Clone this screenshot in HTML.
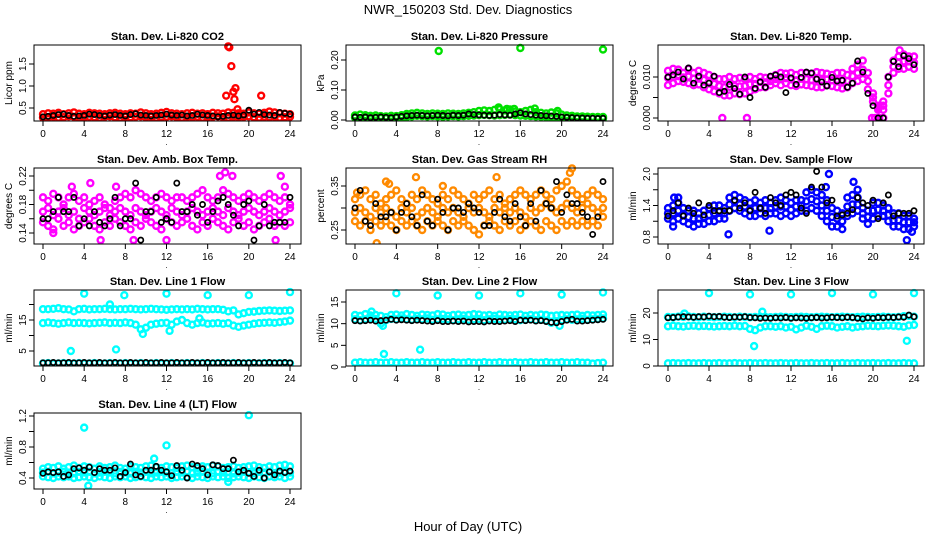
<!DOCTYPE html>
<html><head><meta charset="utf-8"><title>NWR_150203 Std. Dev. Diagnostics</title>
<style>
html,body{margin:0;padding:0;background:#fff;}
svg{display:block;font-family:"Liberation Sans",Arial,sans-serif;}
</style></head>
<body>
<svg id="chart" width="936" height="540" viewBox="0 0 936 540" xmlns="http://www.w3.org/2000/svg">
<text x="468" y="14" text-anchor="middle" font-size="13">NWR_150203  Std. Dev. Diagnostics</text>
<text x="468" y="531" text-anchor="middle" font-size="13">Hour of Day (UTC)</text>
</svg>
<script>
const hours=[0,0.5,1,1.5,2,2.5,3,3.5,4,4.5,5,5.5,6,6.5,7,7.5,8,8.5,9,9.5,10,10.5,11,11.5,12,12.5,13,13.5,14,14.5,15,15.5,16,16.5,17,17.5,18,18.5,19,19.5,20,20.5,21,21.5,22,22.5,23,23.5,24];
const xTicks=[0,4,8,12,16,20,24];

// P1 CO2
const co2Lo=[0.28,0.29,0.30,0.28,0.29,0.31,0.30,0.28,0.29,0.30,0.29,0.28,0.30,0.31,0.29,0.28,0.30,0.29,0.30,0.31,0.29,0.30,0.28,0.29,0.30,0.31,0.29,0.28,0.30,0.29,0.30,0.28,0.29,0.30,0.31,0.29,0.28,0.30,0.29,0.30,0.31,0.29,0.28,0.30,0.29,0.30,0.28,0.29,0.30];
const co2Hi=[0.36,0.38,0.37,0.39,0.36,0.38,0.40,0.37,0.36,0.39,0.38,0.37,0.36,0.38,0.39,0.37,0.36,0.38,0.37,0.40,0.38,0.36,0.37,0.39,0.41,0.38,0.37,0.36,0.38,0.39,0.37,0.38,0.36,0.39,0.38,0.37,0.40,0.39,0.38,0.37,0.40,0.38,0.37,0.39,0.42,0.40,0.38,0.37,0.36];
const co2Black=[0.30,0.31,0.33,0.35,0.36,0.33,0.31,0.32,0.33,0.36,0.35,0.33,0.32,0.34,0.35,0.33,0.32,0.35,0.37,0.34,0.33,0.32,0.33,0.34,0.36,0.34,0.33,0.34,0.32,0.33,0.36,0.34,0.33,0.32,0.30,0.31,0.33,0.34,0.32,0.34,0.45,0.36,0.40,0.35,0.34,0.33,0.40,0.38,0.36];
const co2OutX=[17.8,18.0,18.1,18.3,18.5,18.6,18.7,18.9,21.2];
const co2OutY=[0.78,1.90,1.88,1.45,0.87,0.70,0.95,0.47,0.78];

// P2 Pressure
const prLo=[0.008,0.006,0.007,0.005,0.006,0.007,0.006,0.005,0.007,0.008,0.010,0.012,0.014,0.013,0.012,0.013,0.012,0.011,0.012,0.013,0.012,0.013,0.014,0.015,0.016,0.017,0.016,0.015,0.016,0.017,0.018,0.016,0.015,0.014,0.013,0.012,0.011,0.010,0.010,0.009,0.008,0.007,0.006,0.006,0.005,0.005,0.006,0.005,0.005];
const prHi=[0.015,0.018,0.016,0.014,0.015,0.013,0.012,0.014,0.013,0.016,0.020,0.022,0.024,0.022,0.020,0.022,0.021,0.020,0.022,0.021,0.020,0.022,0.024,0.026,0.030,0.032,0.030,0.034,0.036,0.032,0.035,0.028,0.026,0.030,0.034,0.026,0.024,0.022,0.025,0.022,0.018,0.015,0.014,0.012,0.012,0.011,0.010,0.010,0.010];
const prBlack=[0.010,0.009,0.010,0.008,0.009,0.010,0.009,0.008,0.010,0.012,0.014,0.015,0.016,0.015,0.014,0.015,0.016,0.015,0.014,0.016,0.015,0.016,0.020,0.018,0.017,0.016,0.015,0.016,0.018,0.017,0.016,0.020,0.024,0.020,0.018,0.016,0.015,0.014,0.013,0.012,0.010,0.009,0.008,0.007,0.007,0.006,0.006,0.005,0.006];
const prOutX=[8.1,16.0,24.0,13.9,17.4,14.7,15.4,19.6];
const prOutY=[0.230,0.240,0.235,0.042,0.038,0.037,0.037,0.030];

// P3 Li-820 Temp
const tmHi=[0.0115,0.012,0.0118,0.011,0.012,0.011,0.0115,0.011,0.0105,0.010,0.0095,0.0095,0.010,0.0095,0.0098,0.0095,0.010,0.0095,0.010,0.0098,0.010,0.0105,0.011,0.0108,0.011,0.0105,0.011,0.011,0.0108,0.0112,0.011,0.0108,0.0105,0.011,0.011,0.0105,0.012,0.013,0.014,0.011,0.006,0.003,0.004,0.010,0.014,0.015,0.0155,0.015,0.015];
const tmMid=[0.0098,0.010,0.0102,0.0099,0.0101,0.0096,0.0098,0.0093,0.0088,0.0083,0.0078,0.0075,0.0076,0.0078,0.0077,0.0078,0.0082,0.0083,0.0088,0.0087,0.0090,0.0095,0.0095,0.0097,0.0095,0.0092,0.0096,0.0095,0.0093,0.0094,0.0093,0.0094,0.0092,0.0093,0.0091,0.0090,0.0102,0.0110,0.0118,0.0090,0.0050,0.0025,0.0030,0.0080,0.0125,0.0135,0.0138,0.0138,0.0135];
const tmLo=[0.008,0.0085,0.009,0.0088,0.0085,0.008,0.0082,0.0075,0.007,0.0065,0.006,0.0055,0.0055,0.006,0.0058,0.006,0.0065,0.007,0.0075,0.0075,0.008,0.0085,0.008,0.0085,0.008,0.0078,0.0082,0.008,0.0078,0.0075,0.0075,0.008,0.0078,0.0075,0.0072,0.0075,0.0085,0.009,0.0095,0.007,0.004,0.002,0.002,0.006,0.011,0.012,0.012,0.0125,0.012];
const tmBlack=[0.010,0.0105,0.0112,0.0095,0.0122,0.0085,0.0102,0.0080,0.0085,0.0102,0.0062,0.0065,0.0082,0.0072,0.0058,0.0100,0.0050,0.0072,0.0088,0.0075,0.0102,0.0105,0.0100,0.0062,0.0098,0.0082,0.0099,0.0112,0.0110,0.0095,0.0088,0.0078,0.0099,0.0090,0.0092,0.0075,0.0085,0.0139,0.0112,0.0060,0.0030,0.0000,0.0000,0.0100,0.0138,0.0125,0.0152,0.0145,0.0130];
const tmOutX=[5.3,7.7,19.9,20.2,20.6,21.0,22.6];
const tmOutY=[0.0,0.0,0.0,0.0,0.0,0.0,0.0165];

// P4 Amb Box Temp
const abHi=[0.19,0.185,0.195,0.19,0.18,0.19,0.195,0.185,0.19,0.18,0.185,0.19,0.18,0.175,0.185,0.19,0.195,0.19,0.2,0.195,0.19,0.185,0.19,0.195,0.19,0.185,0.19,0.19,0.185,0.19,0.195,0.2,0.19,0.185,0.19,0.2,0.195,0.19,0.185,0.19,0.195,0.19,0.185,0.19,0.195,0.19,0.185,0.19,0.18];
const abMid=[0.17,0.175,0.165,0.17,0.175,0.165,0.17,0.16,0.175,0.17,0.165,0.17,0.175,0.165,0.17,0.175,0.17,0.165,0.175,0.17,0.165,0.17,0.175,0.17,0.165,0.175,0.17,0.165,0.17,0.175,0.17,0.165,0.17,0.175,0.17,0.165,0.175,0.17,0.165,0.17,0.175,0.17,0.165,0.17,0.175,0.17,0.165,0.17,0.175];
const abLo=[0.155,0.15,0.145,0.16,0.15,0.155,0.145,0.15,0.155,0.16,0.15,0.145,0.155,0.15,0.16,0.155,0.15,0.145,0.155,0.15,0.16,0.155,0.15,0.145,0.16,0.155,0.15,0.155,0.16,0.15,0.145,0.155,0.15,0.16,0.155,0.15,0.145,0.155,0.16,0.15,0.155,0.145,0.15,0.155,0.16,0.15,0.155,0.15,0.155];
const abBlack=[0.16,0.16,0.17,0.19,0.17,0.17,0.19,0.15,0.16,0.15,0.17,0.155,0.15,0.16,0.19,0.15,0.16,0.16,0.21,0.13,0.17,0.17,0.19,0.155,0.16,0.155,0.21,0.17,0.17,0.18,0.165,0.18,0.155,0.17,0.185,0.19,0.18,0.165,0.15,0.18,0.185,0.13,0.15,0.18,0.15,0.155,0.155,0.155,0.19];
const abOutX=[1.0,4.6,5.6,8.8,12.0,17.2,17.7,18.4,22.6,23.1,23.5,2.8,7.1];
const abOutY=[0.14,0.21,0.13,0.13,0.13,0.22,0.225,0.22,0.13,0.22,0.205,0.205,0.205];

// P5 Gas Stream RH
const rhHi=[0.32,0.33,0.34,0.32,0.33,0.31,0.32,0.33,0.34,0.32,0.31,0.33,0.32,0.34,0.33,0.32,0.31,0.33,0.32,0.34,0.33,0.32,0.31,0.33,0.32,0.33,0.34,0.32,0.33,0.31,0.32,0.33,0.34,0.33,0.32,0.33,0.34,0.33,0.32,0.34,0.35,0.36,0.34,0.33,0.32,0.33,0.34,0.33,0.32];
const rhMid=[0.29,0.30,0.29,0.28,0.30,0.29,0.30,0.29,0.28,0.30,0.29,0.30,0.28,0.29,0.30,0.29,0.28,0.30,0.29,0.30,0.29,0.28,0.30,0.29,0.30,0.29,0.28,0.30,0.29,0.30,0.29,0.30,0.29,0.28,0.30,0.29,0.30,0.31,0.30,0.29,0.30,0.31,0.30,0.29,0.30,0.31,0.30,0.29,0.30];
const rhLo=[0.27,0.26,0.27,0.25,0.27,0.26,0.27,0.26,0.25,0.27,0.26,0.27,0.26,0.25,0.27,0.26,0.27,0.26,0.25,0.27,0.26,0.27,0.26,0.25,0.24,0.26,0.27,0.26,0.25,0.27,0.26,0.27,0.25,0.26,0.27,0.26,0.25,0.27,0.26,0.25,0.27,0.26,0.27,0.26,0.27,0.26,0.27,0.26,0.28];
const rhBlack=[0.30,0.34,0.27,0.26,0.31,0.28,0.28,0.29,0.25,0.29,0.31,0.28,0.26,0.33,0.27,0.26,0.32,0.29,0.25,0.30,0.30,0.29,0.31,0.30,0.29,0.26,0.26,0.29,0.32,0.28,0.27,0.31,0.28,0.26,0.31,0.27,0.34,0.31,0.30,0.36,0.29,0.33,0.31,0.31,0.29,0.28,0.24,0.28,0.36];
const rhOutX=[2.1,3.0,3.3,5.9,13.7,20.8,21.0,0.2,8.5];
const rhOutY=[0.22,0.36,0.355,0.37,0.37,0.38,0.39,0.335,0.35];

// P6 Sample Flow
const sfHi=[1.35,1.4,1.45,1.35,1.3,1.3,1.25,1.3,1.35,1.4,1.4,1.35,1.55,1.6,1.55,1.5,1.45,1.5,1.45,1.5,1.45,1.5,1.55,1.5,1.45,1.5,1.5,1.65,1.7,1.65,1.6,1.5,1.35,1.3,1.25,1.55,1.6,1.55,1.35,1.3,1.45,1.45,1.4,1.35,1.25,1.25,1.2,1.2,1.15];
const sfMid=[1.25,1.25,1.3,1.22,1.18,1.15,1.15,1.18,1.22,1.25,1.28,1.25,1.42,1.48,1.42,1.38,1.32,1.35,1.35,1.35,1.35,1.38,1.38,1.38,1.32,1.38,1.4,1.48,1.52,1.48,1.4,1.3,1.18,1.15,1.1,1.38,1.42,1.42,1.25,1.18,1.3,1.32,1.3,1.22,1.12,1.12,1.08,1.08,1.08];
const sfLo=[1.15,1.1,1.15,1.1,1.05,1.0,1.05,1.05,1.1,1.1,1.15,1.15,1.3,1.35,1.3,1.25,1.2,1.2,1.25,1.2,1.25,1.25,1.2,1.25,1.2,1.25,1.3,1.3,1.35,1.3,1.2,1.1,1.0,1.0,0.95,1.2,1.25,1.3,1.15,1.05,1.15,1.2,1.2,1.1,1.0,1.0,0.95,0.95,1.0];
const sfBlack=[1.2,1.3,1.45,1.2,1.35,1.25,1.45,1.22,1.4,1.3,1.3,1.3,1.3,1.5,1.35,1.45,1.3,1.65,1.35,1.25,1.55,1.45,1.4,1.6,1.65,1.6,1.35,1.25,1.75,2.05,1.75,1.45,1.5,1.2,1.22,1.25,1.32,1.55,1.45,1.4,1.5,1.15,1.45,1.6,1.2,1.25,1.25,1.25,1.3];
const sfOutX=[0.5,5.9,9.9,15.7,18.1,23.3,23.8,0.6,1.0,18.5,15.4];
const sfOutY=[1.0,0.85,0.92,2.0,1.85,0.74,0.9,1.55,1.55,1.7,1.75];

// P7 Line 1 Flow
const l1Hi=[18.5,18.5,18.6,18.8,18.5,18.4,17.8,18.5,18.6,18.4,18.5,18.5,18.6,18.5,18.4,18.5,18.5,18.6,18.5,18.4,18.5,18.6,18.5,18.4,18.3,18.4,18.5,18.4,18.5,18.4,18.6,18.5,18.4,18.5,18.5,18.3,17.8,18.1,16.8,17.2,17.6,17.7,17.9,18.0,18.1,18.0,17.9,18.0,18.1];
const l1Mid=[14.0,14.2,14.0,13.8,14.0,14.2,14.0,14.1,14.0,13.9,14.0,14.1,14.2,14.0,14.1,14.0,14.2,14.0,13.5,12.0,12.5,13.5,13.8,14.0,14.1,13.5,14.5,15.0,14.0,13.5,14.0,14.2,13.8,13.9,14.0,13.8,14.0,13.2,12.8,13.2,13.5,13.8,14.0,14.1,14.2,14.1,14.3,14.5,14.8];
const l1Lo=[1.0,1.1,1.0,1.0,1.1,1.0,1.0,1.1,1.0,1.0,1.1,1.0,1.0,1.1,1.0,1.0,1.1,1.0,1.0,1.1,1.0,1.0,1.1,1.0,1.0,1.1,1.0,1.0,1.1,1.0,1.0,1.1,1.0,1.0,1.1,1.0,1.0,1.1,1.0,1.0,1.1,1.0,1.0,1.1,1.0,1.0,1.1,1.0,1.0];
const l1Black=[1.2,1.2,1.3,1.2,1.2,1.3,1.2,1.2,1.3,1.2,1.2,1.3,1.2,1.2,1.3,1.2,1.2,1.3,1.2,1.2,1.3,1.2,1.2,1.3,1.2,1.2,1.3,1.2,1.2,1.3,1.2,1.2,1.3,1.2,1.2,1.3,1.2,1.2,1.3,1.2,1.2,1.3,1.2,1.2,1.3,1.2,1.2,1.3,1.2];
const l1OutX=[4.0,7.9,12.0,16.0,20.0,24.0,2.7,7.1,9.7,6.5,12.3,15.2];
const l1OutY=[23.5,23.0,23.5,23.0,23.0,24.0,5.0,5.5,10.5,20.0,11.5,15.5];

// P8 Line 2 Flow
const l2Hi=[12,11.8,12.2,11.9,12,11.8,11.5,12,12.1,11.9,12.2,12,11.8,12.1,12,11.9,12.2,12.1,11.8,12,12.1,11.9,12,12.2,12.1,11.9,12,11.8,12.1,12,11.9,12,12.1,11.8,12,11.9,12.1,12,11.8,11.9,12,11.9,12,12.1,11.8,12,11.9,12,12.1];
const l2Mid=[11,10.8,11,11.2,11.1,10,10.8,11.1,11,11.2,11,10.9,11.1,11,11.2,10.9,11,11.1,11,10.8,11,11.1,10.9,11,11.1,10.8,11,11.1,11,10.9,11.1,11,10.8,10.9,11,10.8,10.9,10.7,10.2,10.5,10.8,11,10.9,11,11.1,10.9,11,11.1,11.2];
const l2Lo=[1.0,1.1,1.0,1.0,1.1,1.0,1.0,1.1,1.0,1.0,1.1,1.0,1.0,1.1,1.0,1.0,1.1,1.0,1.0,1.1,1.0,1.0,1.1,1.0,1.0,1.1,1.0,1.0,1.1,1.0,1.0,1.1,1.0,1.0,1.1,1.0,1.0,1.1,1.0,1.0,1.1,1.0,1.0,1.1,1.0,1.0,0.8,0.9,1.0];
const l2Black=[10.7,10.6,10.7,10.8,10.6,10.7,10.8,11,10.8,10.9,10.8,10.7,10.8,10.7,10.6,10.5,10.7,10.5,10.5,10.6,10.5,10.6,10.4,10.5,10.5,10.4,10.6,10.5,10.5,10.6,10.7,10.5,10.8,10.7,10.8,10.6,10.7,10.5,10.3,10.2,10.5,10.8,11,10.6,10.6,10.7,10.8,10.9,11];
const l2OutX=[4.0,8.0,12.0,16.0,20.0,24.0,2.8,6.3,2.7,19.8,1.6];
const l2OutY=[17.0,16.5,16.5,17.0,16.7,17.2,3.0,4.0,9.5,9.5,12.8];

// P9 Line 3 Flow
const l3Hi=[18.5,18.4,18.6,18.5,18.7,18.5,18.4,18.6,18.5,18.4,18.5,18.6,18.5,18.4,18.6,18.5,18.4,18.5,18.6,18.5,18.4,18.5,18.6,18.5,18.4,18.5,18.6,18.5,18.4,18.5,18.6,18.5,18.4,18.5,18.6,18.5,18.4,18.5,18.6,18.5,18.4,18.5,18.6,18.5,18.4,18.5,18.8,18.9,18.6];
const l3Mid=[15.0,15.2,15.0,14.9,15.1,15.2,15.0,15.1,15.0,14.9,15.0,15.1,15.0,15.2,15.0,15.1,14.0,13.5,14.5,15.0,15.0,14.8,15.0,14.5,14.8,13.8,14.5,15.2,14.8,14.0,15.0,15.2,15.0,14.5,14.8,15.0,14.5,14.8,15.0,15.2,15.1,15.0,15.2,15.3,15.2,15.0,14.8,15.3,15.5];
const l3Lo=[1.0,1.1,1.0,1.0,1.1,1.0,1.0,1.1,1.0,1.0,1.1,1.0,1.0,1.1,1.0,1.0,1.1,1.0,1.0,1.1,1.0,1.0,1.1,1.0,1.0,1.1,1.0,1.0,1.1,1.0,1.0,1.1,1.0,1.0,1.1,1.0,1.0,1.1,1.0,1.0,1.1,1.0,1.0,1.1,1.0,1.0,1.1,1.0,1.0];
const l3Black=[18.2,18.3,18.5,18.6,18.5,18.4,18.6,18.5,18.8,18.6,18.7,18.4,18.3,18.5,18.4,18.6,18.3,18.2,18.0,18.1,18.0,18.2,18.1,18.3,18.0,18.2,18.1,18.0,18.2,18.3,18.1,18.2,18.4,18.3,18.2,18.4,18.3,18.0,17.8,18.2,18.0,18.3,18.2,18.4,18.3,18.5,18.4,19.2,18.6];
const l3OutX=[4.0,8.0,12.0,16.0,20.0,24.0,8.4,23.3,9.2,1.6];
const l3OutY=[27.5,27.0,27.0,27.5,27.0,27.5,7.5,9.5,20.5,19.8];

// P10 Line 4 (LT) Flow
const l4Hi=[0.52,0.54,0.53,0.55,0.52,0.54,0.56,0.53,0.55,0.54,0.52,0.55,0.53,0.54,0.56,0.53,0.52,0.55,0.54,0.53,0.55,0.56,0.54,0.53,0.55,0.54,0.53,0.55,0.56,0.54,0.53,0.55,0.54,0.56,0.55,0.53,0.54,0.55,0.53,0.54,0.55,0.56,0.54,0.53,0.55,0.54,0.56,0.57,0.55];
const l4Mid=[0.47,0.48,0.46,0.47,0.48,0.47,0.46,0.48,0.47,0.48,0.46,0.47,0.48,0.47,0.46,0.48,0.47,0.46,0.48,0.47,0.48,0.46,0.47,0.48,0.47,0.46,0.48,0.47,0.48,0.46,0.47,0.48,0.47,0.46,0.48,0.47,0.48,0.46,0.47,0.48,0.47,0.46,0.48,0.47,0.48,0.46,0.47,0.48,0.47];
const l4Lo=[0.42,0.41,0.40,0.42,0.41,0.42,0.40,0.41,0.42,0.41,0.40,0.42,0.41,0.40,0.42,0.41,0.42,0.40,0.41,0.42,0.41,0.40,0.42,0.41,0.42,0.40,0.41,0.42,0.41,0.40,0.42,0.41,0.40,0.42,0.41,0.42,0.40,0.41,0.42,0.41,0.40,0.42,0.41,0.40,0.42,0.41,0.42,0.40,0.42];
const l4Black=[0.46,0.48,0.47,0.48,0.42,0.44,0.52,0.53,0.50,0.54,0.47,0.52,0.50,0.50,0.53,0.42,0.47,0.58,0.44,0.42,0.50,0.50,0.55,0.50,0.48,0.43,0.56,0.50,0.40,0.58,0.56,0.52,0.44,0.57,0.56,0.52,0.52,0.63,0.48,0.50,0.46,0.42,0.50,0.40,0.48,0.44,0.49,0.47,0.49];
const l4OutX=[4.0,12.0,20.0,4.4,10.8,18.0];
const l4OutY=[1.05,0.82,1.21,0.30,0.65,0.35];

const svg=document.getElementById('chart');
const NS='http://www.w3.org/2000/svg';
function mk(tag,attrs,parent){const e=document.createElementNS(NS,tag);for(const k in attrs)e.setAttribute(k,attrs[k]);(parent||svg).appendChild(e);return e;}

function panel(p){
  const g=mk('g',{});
  
  
  const sx=v=>p.xa+(v-0)*(p.xb-p.xa)/24;
  const sy=v=>p.pa+(v-p.va)*(p.pb-p.pa)/(p.vb-p.va);
  const t=mk('text',{x:(p.l+p.r)/2,y:p.t-5,'text-anchor':'middle','font-size':'11','font-weight':'bold'},g);
  t.textContent=p.title;
  
  
  const yl=mk('text',{x:0,y:0,'text-anchor':'middle','font-size':'10',transform:`translate(${p.l-22},${(p.t+p.b)/2}) rotate(-90)`},g);
  yl.textContent=p.ylab;
  
  
  p.yt.forEach((v,i)=>{
    const y=sy(v);
    mk('line',{x1:p.l-5,x2:p.l,y1:y,y2:y,stroke:'#000','stroke-width':1},g);
    if(p.yl[i]!==''){
      const tl=mk('text',{x:0,y:0,'text-anchor':'middle','font-size':'10',transform:`translate(${p.l-8},${y}) rotate(-90)`},g);
      tl.textContent=p.yl[i];
      
      
    }
  });
  xTicks.forEach(v=>{
    const x=sx(v);
    mk('line',{x1:x,x2:x,y1:p.b,y2:p.b+5,stroke:'#000','stroke-width':1},g);
    const tl=mk('text',{x:x,y:p.b+16,'text-anchor':'middle','font-size':'10'},g);
    tl.textContent=String(v);
    
    
  });
  const dot=mk('text',{x:(p.xa+p.xb)/2,y:p.b+24,'text-anchor':'middle','font-size':'8'},g);
  dot.textContent='.';
  const clip='clip-'+p.name;
  const cp=mk('clipPath',{id:clip},g);
  mk('rect',{x:p.l,y:p.t-4,width:p.r-p.l,height:p.b-p.t+4},cp);
  const pts=mk('g',{'clip-path':`url(#${clip})`},g);
  p.series.forEach(s=>{
    const black=s.color==='#000';
    const sg=mk('g',{fill:'none',stroke:s.color,'stroke-width':black?1.7:2.4},pts);
    
    
    s.ys.forEach((v,i)=>{
      const c=mk('circle',{cx:sx(s.xs[i]),cy:sy(v),r:black?2.6:3},sg);
      
      
    });
  });
  const box=mk('rect',{x:p.l,y:p.t,width:p.r-p.l,height:p.b-p.t,fill:'none',stroke:'#000','stroke-width':1},g);
  
  
}

const C1={l:34,r:301,xa:43,xb:290};
const C2={l:346,r:613,xa:355,xb:603};
const C3={l:658,r:924,xa:668,xb:914};
const R1={t:45,b:121},R2={t:168,b:244},R3={t:290,b:366},R4={t:413,b:489};
const OR='#ff8a00';

panel(Object.assign({name:'panel-co2',title:'Stan. Dev. Li-820 CO2',ylab:'Licor ppm',va:0.5,pa:108,vb:1.5,pb:64,yt:[0.5,1.0,1.5],yl:['0.5','1.0','1.5'],
 series:[{name:'co2-series',color:'#ff0000',xs:hours,ys:co2Lo},{name:'co2-series-b',color:'#ff0000',xs:hours,ys:co2Hi},{name:'co2-outliers',color:'#ff0000',xs:co2OutX,ys:co2OutY},{name:'co2-hourly',color:'#000',xs:hours,ys:co2Black}]},C1,R1));
panel(Object.assign({name:'panel-pressure',title:'Stan. Dev. Li-820 Pressure',ylab:'kPa',va:0,pa:120,vb:0.2,pb:60,yt:[0,0.1,0.2],yl:['0.00','0.10','0.20'],
 series:[{name:'pressure-series',color:'#00e000',xs:hours,ys:prLo},{name:'pressure-series-b',color:'#00e000',xs:hours,ys:prHi},{name:'pressure-outliers',color:'#00e000',xs:prOutX,ys:prOutY},{name:'pressure-hourly',color:'#000',xs:hours,ys:prBlack}]},C2,R1));
panel(Object.assign({name:'panel-temp',title:'Stan. Dev. Li-820 Temp.',ylab:'degrees C',va:0,pa:118,vb:0.01,pb:77,yt:[0,0.005,0.01],yl:['0.000','','0.010'],
 series:[{name:'temp-series',color:'#ff00ff',xs:hours,ys:tmHi},{name:'temp-series-b',color:'#ff00ff',xs:hours,ys:tmMid},{name:'temp-series-c',color:'#ff00ff',xs:hours,ys:tmLo},{name:'temp-outliers',color:'#ff00ff',xs:tmOutX,ys:tmOutY},{name:'temp-hourly',color:'#000',xs:hours,ys:tmBlack}]},C3,R1));
panel(Object.assign({name:'panel-ambbox',title:'Stan. Dev. Amb. Box Temp.',ylab:'degrees C',va:0.14,pa:233,vb:0.22,pb:176,yt:[0.14,0.16,0.18,0.2,0.22],yl:['0.14','','0.18','','0.22'],
 series:[{name:'ambbox-series',color:'#ff00ff',xs:hours,ys:abHi},{name:'ambbox-series-b',color:'#ff00ff',xs:hours,ys:abMid},{name:'ambbox-series-c',color:'#ff00ff',xs:hours,ys:abLo},{name:'ambbox-outliers',color:'#ff00ff',xs:abOutX,ys:abOutY},{name:'ambbox-hourly',color:'#000',xs:hours,ys:abBlack}]},C1,R2));
panel(Object.assign({name:'panel-rh',title:'Stan. Dev. Gas Stream RH',ylab:'percent',va:0.25,pa:230,vb:0.35,pb:186,yt:[0.25,0.3,0.35],yl:['0.25','','0.35'],
 series:[{name:'rh-series',color:OR,xs:hours,ys:rhHi},{name:'rh-series-b',color:OR,xs:hours,ys:rhMid},{name:'rh-series-c',color:OR,xs:hours,ys:rhLo},{name:'rh-outliers',color:OR,xs:rhOutX,ys:rhOutY},{name:'rh-hourly',color:'#000',xs:hours,ys:rhBlack}]},C2,R2));
panel(Object.assign({name:'panel-sampleflow',title:'Stan. Dev. Sample Flow',ylab:'ml/min',va:0.8,pa:237,vb:2.0,pb:174,yt:[0.8,1.1,1.4,1.7,2.0],yl:['0.8','','1.4','','2.0'],
 series:[{name:'sampleflow-series',color:'#0000ff',xs:hours,ys:sfHi},{name:'sampleflow-series-b',color:'#0000ff',xs:hours,ys:sfMid},{name:'sampleflow-series-c',color:'#0000ff',xs:hours,ys:sfLo},{name:'sampleflow-outliers',color:'#0000ff',xs:sfOutX,ys:sfOutY},{name:'sampleflow-hourly',color:'#000',xs:hours,ys:sfBlack}]},C3,R2));
panel(Object.assign({name:'panel-line1',title:'Stan. Dev. Line 1 Flow',ylab:'ml/min',va:5,pa:351,vb:15,pb:320,yt:[5,10,15,20],yl:['5','','15',''],
 series:[{name:'line1-series',color:'#00ffff',xs:hours,ys:l1Hi},{name:'line1-series-b',color:'#00ffff',xs:hours,ys:l1Mid},{name:'line1-series-c',color:'#00ffff',xs:hours,ys:l1Lo},{name:'line1-outliers',color:'#00ffff',xs:l1OutX,ys:l1OutY},{name:'line1-hourly',color:'#000',xs:hours,ys:l1Black}]},C1,R3));
panel(Object.assign({name:'panel-line2',title:'Stan. Dev. Line 2 Flow',ylab:'ml/min',va:0,pa:367,vb:15,pb:302,yt:[0,5,10,15],yl:['0','5','10','15'],
 series:[{name:'line2-series',color:'#00ffff',xs:hours,ys:l2Hi},{name:'line2-series-b',color:'#00ffff',xs:hours,ys:l2Mid},{name:'line2-series-c',color:'#00ffff',xs:hours,ys:l2Lo},{name:'line2-outliers',color:'#00ffff',xs:l2OutX,ys:l2OutY},{name:'line2-hourly',color:'#000',xs:hours,ys:l2Black}]},C2,R3));
panel(Object.assign({name:'panel-line3',title:'Stan. Dev. Line 3 Flow',ylab:'ml/min',va:0,pa:366,vb:20,pb:313,yt:[0,10,20],yl:['0','10','20'],
 series:[{name:'line3-series',color:'#00ffff',xs:hours,ys:l3Hi},{name:'line3-series-b',color:'#00ffff',xs:hours,ys:l3Mid},{name:'line3-series-c',color:'#00ffff',xs:hours,ys:l3Lo},{name:'line3-outliers',color:'#00ffff',xs:l3OutX,ys:l3OutY},{name:'line3-hourly',color:'#000',xs:hours,ys:l3Black}]},C3,R3));
panel(Object.assign({name:'panel-line4',title:'Stan. Dev. Line 4 (LT) Flow',ylab:'ml/min',va:0.4,pa:478,vb:1.2,pb:416,yt:[0.4,0.6,0.8,1.0,1.2],yl:['0.4','','0.8','','1.2'],
 series:[{name:'line4-series',color:'#00ffff',xs:hours,ys:l4Hi},{name:'line4-series-b',color:'#00ffff',xs:hours,ys:l4Mid},{name:'line4-series-c',color:'#00ffff',xs:hours,ys:l4Lo},{name:'line4-outliers',color:'#00ffff',xs:l4OutX,ys:l4OutY},{name:'line4-hourly',color:'#000',xs:hours,ys:l4Black}]},C1,R4));
</script>
</body></html>
